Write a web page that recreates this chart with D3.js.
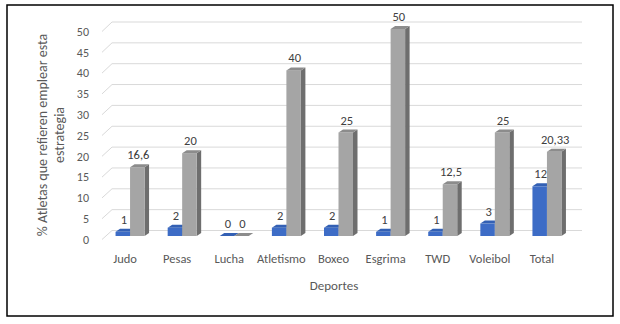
<!DOCTYPE html>
<html>
<head>
<meta charset="utf-8">
<script src="https://cdn.jsdelivr.net/npm/d3@7"></script>
<style>
  html, body { margin: 0; padding: 0; background: #fff; }
  svg { display: block; }
  text { font-family: Carlito, Lato, "Open Sans", sans-serif; }
</style>
</head>
<body>
<svg id="chart" width="620" height="324"></svg>
<script>
// Sports and the two series shown per sport
const categories = ["Judo", "Pesas", "Lucha", "Atletismo", "Boxeo", "Esgrima", "TWD", "Voleibol", "Total"];
const athletes = [1, 2, 0, 2, 2, 1, 1, 3, 12];
const percents = [16.6, 20, 0, 40, 25, 50, 12.5, 25, 20.33];
const percentLabels = ["16,6", "20", "0", "40", "25", "50", "12,5", "25", "20,33"];
const yTicks = [0, 5, 10, 15, 20, 25, 30, 35, 40, 45, 50];

const svg = d3.select("#chart");
const W = 620, H = 324;

svg.append("rect").attr("width", W).attr("height", H).attr("fill", "#fff");
// outer frame
svg.append("rect")
  .attr("x", 7).attr("y", 5).attr("width", 606).attr("height", 311)
  .attr("fill", "none").attr("stroke", "#000").attr("stroke-width", 1.5);

// Scales: front edge (tick labels), back wall (gridlines), bar plane
const x = d3.scaleBand().domain(categories).range([99, 568]);
const yFront = d3.scaleLinear().domain([0, 50]).range([239.5, 31.5]);
const yBack = d3.scaleLinear().domain([0, 50]).range([230.5, 22]);
const yBar = d3.scaleLinear().domain([0, 50]).range([236, 29]);

const wallLeft = 112, wallRight = 582, sideLeft = 102;

// Side wall diagonals + back wall gridlines
const grid = svg.append("g").attr("stroke", "#d9d9d9").attr("stroke-width", 1).attr("fill", "none");
yTicks.forEach(t => {
  grid.append("line")
    .attr("x1", sideLeft).attr("y1", yFront(t))
    .attr("x2", wallLeft).attr("y2", yBack(t));
  grid.append("line")
    .attr("x1", wallLeft).attr("y1", yBack(t))
    .attr("x2", wallRight).attr("y2", yBack(t));
});

// Y tick labels
svg.append("g").selectAll("text").data(yTicks).join("text")
  .attr("x", 89).attr("y", d => yFront(d))
  .attr("dy", "0.35em")
  .attr("text-anchor", "end")
  .attr("font-size", 12)
  .attr("fill", "#595959")
  .text(d => d);

// 3D column helper
const barW = 14.5, depthX = 4.5, depthY = 3;
function column(g, x0, v, colors) {
  const yb = yBar(0), yt = yBar(v);
  // side face
  g.append("path")
    .attr("d", `M${x0 + barW},${yt} L${x0 + barW + depthX},${yt - depthY} L${x0 + barW + depthX},${yb - depthY} L${x0 + barW},${yb} Z`)
    .attr("fill", colors.side);
  // front face
  g.append("rect")
    .attr("x", x0).attr("y", yt).attr("width", barW).attr("height", Math.max(0, yb - yt))
    .attr("fill", colors.front);
  // top face
  g.append("path")
    .attr("d", `M${x0},${yt} L${x0 + depthX},${yt - depthY} L${x0 + barW + depthX},${yt - depthY} L${x0 + barW},${yt} Z`)
    .attr("fill", colors.top);
}

const blue = { front: "#3d6cc6", side: "#2a4f95", top: "#3360b4" };
const gray = { front: "#a5a5a5", side: "#6e6e6e", top: "#8c8c8c" };

const bars = svg.append("g");
categories.forEach((c, i) => {
  const cx = x(c) + x.bandwidth() / 2;
  const bx = cx - 9.5;
  const gx = bx + barW;
  column(bars, bx, athletes[i], blue);
  column(bars, gx, percents[i], gray);
});

// Value labels
const labels = svg.append("g").attr("font-size", 12.5).attr("fill", "#404040").attr("text-anchor", "middle");
categories.forEach((c, i) => {
  const cx = x(c) + x.bandwidth() / 2;
  const bx = cx - 9.5;
  const gx = bx + barW;
  labels.append("text")
    .attr("x", bx + barW / 2 + 1).attr("y", yBar(athletes[i]) - 8)
    .text(athletes[i]);
  labels.append("text")
    .attr("x", gx + barW / 2 + 1).attr("y", yBar(percents[i]) - 8)
    .text(percentLabels[i]);
});

// Category labels
svg.append("g").selectAll("text").data(categories).join("text")
  .attr("x", d => x(d) + x.bandwidth() / 2)
  .attr("y", 263)
  .attr("text-anchor", "middle")
  .attr("font-size", 12.5)
  .attr("fill", "#595959")
  .text(d => d);

// Axis titles
svg.append("text")
  .attr("x", 334).attr("y", 290)
  .attr("text-anchor", "middle")
  .attr("font-size", 13)
  .attr("fill", "#595959")
  .text("Deportes");

const yTitle = svg.append("text")
  .attr("transform", "translate(51,135) rotate(-90)")
  .attr("text-anchor", "middle")
  .attr("font-size", 14)
  .attr("fill", "#595959");
yTitle.append("tspan").attr("x", 0).attr("y", -4).text("% Atletas que refieren emplear esta");
yTitle.append("tspan").attr("x", 0).attr("y", 13).text("estrategia");
</script>
</body>
</html>
